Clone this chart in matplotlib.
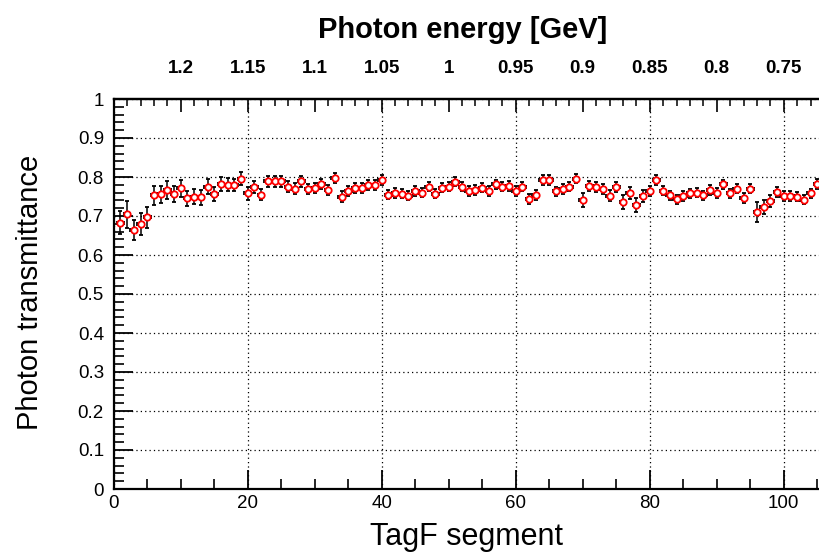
import matplotlib
matplotlib.use("Agg")
import matplotlib.pyplot as plt
from matplotlib.ticker import MultipleLocator, FuncFormatter

# TagF segment numbers and measured photon transmittance
segments = list(range(1, 106))
transmittance = [
    0.683, 0.704, 0.664, 0.679, 0.697, 0.753, 0.756, 0.767, 0.757, 0.771,
    0.745, 0.750, 0.748, 0.775, 0.757, 0.783, 0.780, 0.780, 0.796, 0.758,
    0.775, 0.755, 0.789, 0.789, 0.789, 0.775, 0.770, 0.789, 0.769, 0.772,
    0.783, 0.767, 0.797, 0.750, 0.764, 0.772, 0.772, 0.779, 0.779, 0.792,
    0.755, 0.759, 0.757, 0.752, 0.764, 0.760, 0.775, 0.757, 0.773, 0.775,
    0.788, 0.775, 0.764, 0.767, 0.773, 0.764, 0.781, 0.775, 0.777, 0.764,
    0.775, 0.743, 0.753, 0.792, 0.792, 0.763, 0.769, 0.775, 0.796, 0.741,
    0.777, 0.775, 0.770, 0.752, 0.775, 0.736, 0.759, 0.728, 0.751, 0.764,
    0.792, 0.765, 0.753, 0.743, 0.751, 0.758, 0.760, 0.753, 0.767, 0.759,
    0.781, 0.758, 0.770, 0.747, 0.770, 0.710, 0.724, 0.738, 0.762, 0.751,
    0.751, 0.750, 0.742, 0.758, 0.783,
]
errors = [
    0.029, 0.034, 0.025, 0.028, 0.027, 0.024, 0.022, 0.023, 0.021, 0.022,
    0.020, 0.020, 0.019, 0.019, 0.018, 0.018, 0.017, 0.016, 0.016, 0.016,
    0.015, 0.015, 0.014, 0.014, 0.014, 0.014, 0.014, 0.014, 0.013, 0.013,
    0.013, 0.013, 0.013, 0.013, 0.013, 0.013, 0.013, 0.013, 0.013, 0.013,
    0.012, 0.012, 0.012, 0.012, 0.012, 0.012, 0.012, 0.012, 0.012, 0.012,
    0.012, 0.012, 0.012, 0.012, 0.012, 0.012, 0.012, 0.012, 0.012, 0.012,
    0.012, 0.013, 0.013, 0.012, 0.012, 0.012, 0.012, 0.012, 0.012, 0.017,
    0.013, 0.013, 0.013, 0.014, 0.013, 0.018, 0.015, 0.018, 0.015, 0.013,
    0.012, 0.012, 0.012, 0.012, 0.012, 0.012, 0.012, 0.012, 0.012, 0.012,
    0.012, 0.012, 0.012, 0.013, 0.012, 0.026, 0.018, 0.015, 0.013, 0.012,
    0.012, 0.012, 0.012, 0.012, 0.013,
]

# Photon energy scale shown along the top axis
energy_positions = [10, 20, 30, 40, 50, 60, 70, 80, 90, 100]
energy_labels = ["1.2", "1.15", "1.1", "1.05", "1", "0.95", "0.9", "0.85", "0.8", "0.75"]

plt.rcParams['font.family'] = ['Liberation Sans', 'DejaVu Sans']

W, H = 819, 558
fig = plt.figure(figsize=(W / 100, H / 100), dpi=100)
x0_px, x1_px = 113.7, 113.7 + 106 * 6.7
y0_px, y1_px = 489, 99
ax = fig.add_axes([x0_px / W, (H - y0_px) / H, (x1_px - x0_px) / W, (y0_px - y1_px) / H])
ax.set_xlim(0, 106)
ax.set_ylim(0, 1)

ax.set_axisbelow(True)
ax.grid(True, which='major', color='black', linestyle=(0, (1, 2.5)), linewidth=0.9)

ax.errorbar(segments, transmittance, yerr=errors, xerr=0.5, fmt='o',
            ecolor='black', elinewidth=1.1, capsize=1.5, capthick=1.1,
            mfc='white', mec='red', mew=1.3, ms=4.6, zorder=3)

for s in ax.spines.values():
    s.set_linewidth(1.6)

ax.xaxis.set_major_locator(MultipleLocator(20))
ax.xaxis.set_minor_locator(MultipleLocator(5))
ax.yaxis.set_major_locator(MultipleLocator(0.1))
ax.yaxis.set_minor_locator(MultipleLocator(0.02))
ax.yaxis.set_major_formatter(FuncFormatter(lambda v, p: f"{v:g}"))
ax.tick_params(which='both', direction='in', top=False, right=False, labelsize=13.5)
ax.tick_params(which='major', length=14, width=1.3)
ax.tick_params(which='minor', length=7, width=1.2)
ax.tick_params(axis='x', pad=4)
ax.tick_params(axis='y', pad=7)

top = ax.secondary_xaxis('top')
top.set_xticks(energy_positions, labels=energy_labels)
top.xaxis.set_minor_locator(MultipleLocator(2))
top.tick_params(which='both', direction='in', labelsize=13.5, pad=16)
top.tick_params(which='major', length=9, width=1.2)
top.tick_params(which='minor', length=5, width=1.1)
for lbl in top.get_xticklabels():
    lbl.set_fontweight('bold')
top.spines['top'].set_linewidth(1.6)

fig.text(467 / W, 1 - 537 / H, "TagF segment", ha='center', va='center', fontsize=22)
fig.text(30 / W, 1 - 292 / H, "Photon transmittance", ha='center', va='center',
         rotation=90, fontsize=21)
fig.text(463 / W, 1 - 30 / H, "Photon energy [GeV]", ha='center', va='center',
         fontsize=21, fontweight='bold')

fig.savefig("out.png", dpi=100)
